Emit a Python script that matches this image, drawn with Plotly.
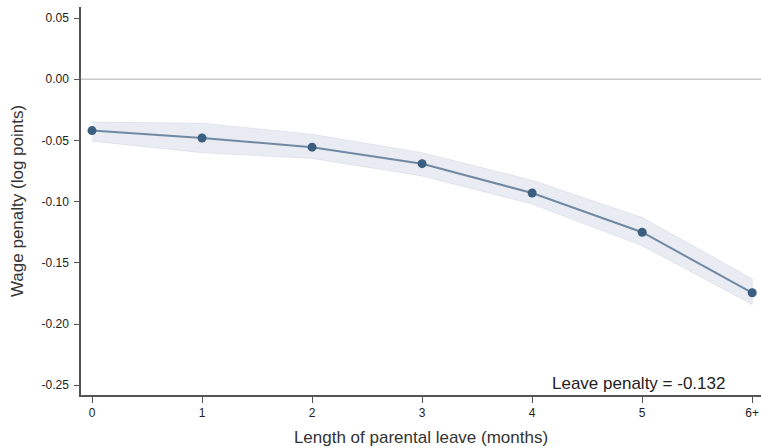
import plotly.graph_objects as go

months = ["0", "1", "2", "3", "4", "5", "6+"]
penalty = [-0.042, -0.048, -0.0555, -0.069, -0.093, -0.125, -0.1745]
ci_upper = [-0.035, -0.036, -0.045, -0.060, -0.0826, -0.113, -0.163]
ci_lower = [-0.0506, -0.060, -0.0647, -0.079, -0.102, -0.136, -0.184]
y_ticks = [0.05, 0.00, -0.05, -0.10, -0.15, -0.20, -0.25]
y_ticktext = ["0.05", "0.00", "-0.05", "-0.10", "-0.15", "-0.20", "-0.25"]
annotation_text = "Leave penalty = -0.132"

xpos = list(range(len(months)))
FONT = "Arial, Liberation Sans, sans-serif"

fig = go.Figure()
fig.add_trace(go.Scatter(
    x=xpos + xpos[::-1], y=ci_upper + ci_lower[::-1],
    fill="toself", fillcolor="rgba(215,223,233,0.55)",
    line=dict(color="rgba(205,214,225,0.5)", width=1),
    mode="lines", hoverinfo="skip", showlegend=False))
fig.add_trace(go.Scatter(
    x=xpos, y=penalty, mode="lines+markers",
    line=dict(color="#7189a2", width=2),
    marker=dict(color="#3b5f80", size=9),
    showlegend=False))

fig.add_hline(y=0, line=dict(color="#c8c8c8", width=1.5), layer="below")

fig.add_annotation(x=5.77, y=-0.2484, xref="x", yref="y", text=annotation_text,
                   showarrow=False, xanchor="right", yanchor="middle",
                   font=dict(family=FONT, size=17, color="#222"))

fig.update_layout(
    width=761, height=448,
    margin=dict(l=81, r=0, t=7, b=53),
    paper_bgcolor="white", plot_bgcolor="white",
    font=dict(family=FONT, color="#222"),
    xaxis=dict(range=[-0.1, 6.08], tickvals=xpos, ticktext=months,
               showgrid=False, zeroline=False, showline=True,
               linecolor="#555", linewidth=1.5,
               ticks="outside", ticklen=6, tickcolor="#555",
               tickfont=dict(size=12, color="#222"),
               title=dict(text="Length of parental leave (months)",
                          font=dict(size=17, color="#333"), standoff=12)),
    yaxis=dict(range=[-0.258, 0.059], tickvals=y_ticks, ticktext=y_ticktext,
               showgrid=False, zeroline=False, showline=True,
               linecolor="#555", linewidth=1.5,
               ticks="outside", ticklen=5, tickcolor="#555",
               ticklabelstandoff=3,
               tickfont=dict(size=12, color="#222"),
               title=dict(text="Wage penalty (log points)",
                          font=dict(size=17, color="#333"), standoff=14)),
)

fig.write_html("out.html")
